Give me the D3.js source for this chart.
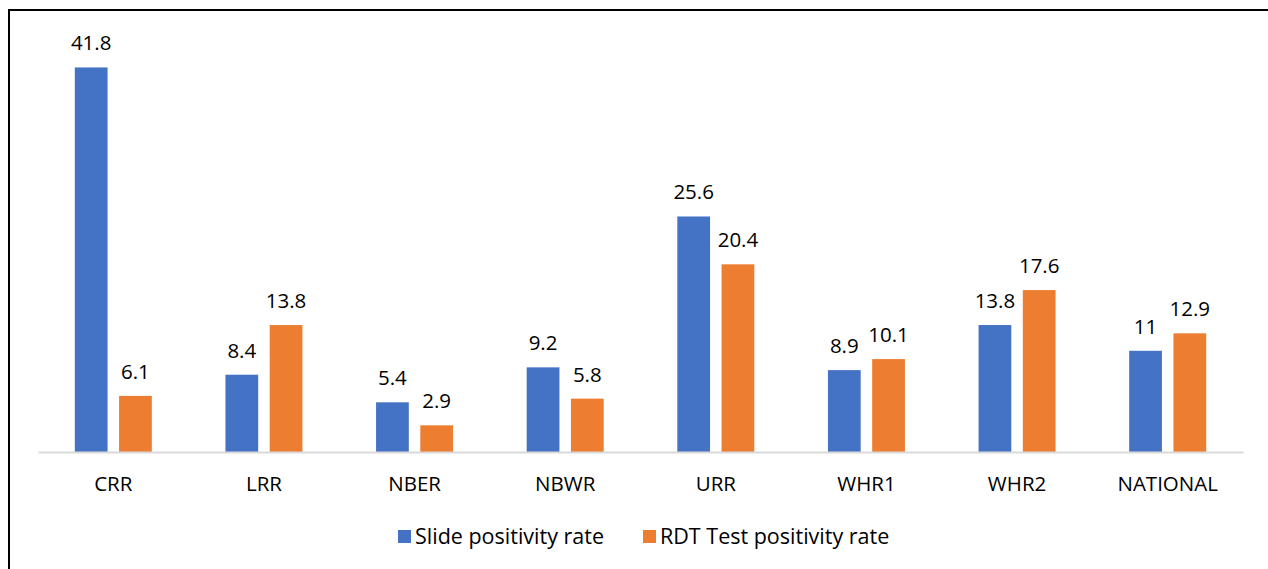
<!DOCTYPE html>
<html>
<head>
<meta charset="utf-8">
<script src="https://cdn.jsdelivr.net/npm/d3@7"></script>
<style>
  body { margin: 0; background: #fff; }
  svg text { font-family: "Open Sans", Lato, sans-serif; fill: #000; }
</style>
</head>
<body>
<div id="chart"></div>
<script>

var categories = ["CRR", "LRR", "NBER", "NBWR", "URR", "WHR1", "WHR2", "NATIONAL"];
var slideRate  = [41.8, 8.4, 5.4, 9.2, 25.6, 8.9, 13.8, 11];
var rdtRate    = [6.1, 13.8, 2.9, 5.8, 20.4, 10.1, 17.6, 12.9];
var seriesNames = ["Slide positivity rate", "RDT Test positivity rate"];
var colors = ["#4472C4", "#ED7D31"];

var width  = 1268;
var height = 569;
var plotLeft = 38, plotRight = 1243, plotTop = 38, baseline = 452;
var FONT = 20.5;

var svg = d3.select('#chart')
    .append('svg')
    .attr('width', width)
    .attr('height', height);

// frame (only top and left edges are visible in the picture)
svg.append('path')
    .attr('d', 'M9,569 V10 H1268')
    .attr('fill', 'none')
    .attr('stroke', '#000')
    .attr('stroke-width', 2);

var x0 = d3.scaleBand()
    .domain(categories)
    .range([plotLeft, plotRight]);

var x1 = d3.scaleBand()
    .domain([0, 1])
    .range([0, 77])
    .paddingInner(0.26);

var y = d3.scaleLinear()
    .domain([0, 45])
    .range([baseline, plotTop]);

var dataset = [];
categories.forEach(function(c, i) {
    dataset.push({cat: c, s: 0, v: slideRate[i]});
    dataset.push({cat: c, s: 1, v: rdtRate[i]});
});

function barX(d) {
    return x0(d.cat) + x0.bandwidth() / 2 - 38.5 + x1(d.s);
}

svg.selectAll('rect.bar')
    .data(dataset)
    .enter()
    .append('rect')
    .attr('class', 'bar')
    .attr('x', barX)
    .attr('y', function(d) { return y(d.v); })
    .attr('width', x1.bandwidth())
    .attr('height', function(d) { return baseline - y(d.v); })
    .attr('fill', function(d) { return colors[d.s]; });

svg.selectAll('text.val')
    .data(dataset)
    .enter()
    .append('text')
    .attr('class', 'val')
    .attr('x', function(d) { return barX(d) + x1.bandwidth() / 2; })
    .attr('y', function(d) { return y(d.v) - 17; })
    .attr('text-anchor', 'middle')
    .attr('font-size', FONT)
    .text(function(d) { return d.v; });

// axis line + category labels
var axis = svg.append('g')
    .attr('transform', 'translate(0,' + baseline + ')')
    .call(d3.axisBottom(x0).tickSize(0).tickPadding(24));
axis.select('.domain').attr('stroke', '#d9d9d9').attr('stroke-width', 2);
axis.selectAll('text')
    .attr('font-size', FONT)
    .attr('font-family', '"Open Sans", Lato, sans-serif')
    .attr('fill', '#000');

// legend
var legendX = [398, 643];
var legend = svg.selectAll('g.legend')
    .data(seriesNames)
    .enter()
    .append('g')
    .attr('class', 'legend')
    .attr('transform', function(d, i) { return 'translate(' + legendX[i] + ',530)'; });

legend.append('rect')
    .attr('width', 13)
    .attr('height', 13)
    .attr('fill', function(d, i) { return colors[i]; });

legend.append('text')
    .attr('x', 17)
    .attr('y', 14)
    .attr('font-size', 21.5)
    .text(function(d) { return d; });

</script>
</body>
</html>
